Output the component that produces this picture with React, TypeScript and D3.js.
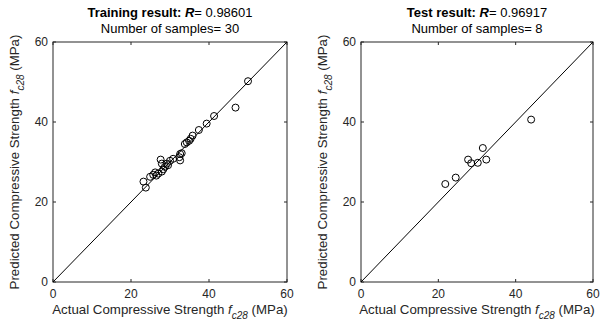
import React, { useEffect, useRef } from 'react';
import * as d3 from 'd3';

// Training set: actual vs predicted f_c28 (MPa)
const trainActual = [
  50.0, 46.8, 41.3, 39.4, 37.4, 35.8, 35.3, 34.9, 34.3, 33.8,
  32.6, 32.4, 32.6, 30.8, 30.0, 27.6, 27.9, 29.2, 28.7, 28.3,
  27.9, 27.0, 26.2, 25.7, 24.9, 23.2, 23.8, 33.0, 26.5, 29.5,
];
const trainPredicted = [
  50.2, 43.6, 41.5, 39.6, 38.0, 36.6, 35.8, 35.3, 34.9, 34.5,
  32.0, 31.2, 30.4, 30.8, 30.3, 30.6, 29.6, 29.6, 28.8, 28.2,
  27.6, 27.1, 27.4, 26.8, 26.3, 25.1, 23.6, 32.2, 26.6, 29.2,
];

// Test set
const testActual = [21.8, 24.5, 27.7, 28.5, 30.2, 31.5, 32.4, 44.0];
const testPredicted = [24.5, 26.1, 30.6, 29.7, 29.8, 33.5, 30.6, 40.6];

const axisTicks = [0, 20, 40, 60];

interface PanelSpec {
  left: number;
  right: number;
  titleBold: string;
  rValue: string;
  samples: number;
  xs: number[];
  ys: number[];
}

const panels: PanelSpec[] = [
  { left: 53, right: 287, titleBold: 'Training result: ', rValue: '0.98601', samples: 30, xs: trainActual, ys: trainPredicted },
  { left: 361, right: 593, titleBold: 'Test result: ', rValue: '0.96917', samples: 8, xs: testActual, ys: testPredicted },
];

const App: React.FC = () => {
  const svgRef = useRef<SVGSVGElement>(null);

  useEffect(() => {
    if (!svgRef.current) return;
    const root = d3.select(svgRef.current);
    root.selectAll('*').remove();

    const top = 42;
    const bottom = 282;
    const font = 'Liberation Sans, Arial, Helvetica, sans-serif';
    const tickColor = '#262626';

    panels.forEach(p => {
      const x = d3.scaleLinear().domain([0, 60]).range([p.left, p.right]);
      const y = d3.scaleLinear().domain([0, 60]).range([bottom, top]);
      const g = root.append('g');
      const cx = (p.left + p.right) / 2;

      // Box
      g.append('rect')
        .attr('x', p.left)
        .attr('y', top)
        .attr('width', p.right - p.left)
        .attr('height', bottom - top)
        .attr('fill', 'white')
        .attr('stroke', tickColor)
        .attr('stroke-width', 1);

      // Ticks (inward, on all four sides)
      const tl = 3;
      axisTicks.forEach(t => {
        g.append('line').attr('x1', x(t)).attr('x2', x(t)).attr('y1', bottom).attr('y2', bottom - tl).attr('stroke', tickColor);
        g.append('line').attr('x1', x(t)).attr('x2', x(t)).attr('y1', top).attr('y2', top + tl).attr('stroke', tickColor);
        g.append('line').attr('x1', p.left).attr('x2', p.left + tl).attr('y1', y(t)).attr('y2', y(t)).attr('stroke', tickColor);
        g.append('line').attr('x1', p.right).attr('x2', p.right - tl).attr('y1', y(t)).attr('y2', y(t)).attr('stroke', tickColor);

        g.append('text')
          .attr('x', x(t))
          .attr('y', bottom + 16)
          .attr('text-anchor', 'middle')
          .attr('font-family', font)
          .attr('font-size', 12)
          .attr('fill', tickColor)
          .text(t);
        g.append('text')
          .attr('x', p.left - 5)
          .attr('y', y(t))
          .attr('dy', '0.35em')
          .attr('text-anchor', 'end')
          .attr('font-family', font)
          .attr('font-size', 12)
          .attr('fill', tickColor)
          .text(t);
      });

      // Identity line
      g.append('line')
        .attr('x1', x(0))
        .attr('y1', y(0))
        .attr('x2', x(60))
        .attr('y2', y(60))
        .attr('stroke', 'black')
        .attr('stroke-width', 1);

      // Points
      g.selectAll('circle')
        .data(p.xs.map((v, i) => [v, p.ys[i]]))
        .enter()
        .append('circle')
        .attr('cx', d => x(d[0]))
        .attr('cy', d => y(d[1]))
        .attr('r', 3.5)
        .attr('fill', 'none')
        .attr('stroke', 'black')
        .attr('stroke-width', 1);

      // Title
      const t1 = g.append('text')
        .attr('x', cx)
        .attr('y', 17)
        .attr('text-anchor', 'middle')
        .attr('font-family', font)
        .attr('font-size', 13)
        .attr('fill', 'black');
      t1.append('tspan').attr('font-weight', 'bold').text(p.titleBold);
      t1.append('tspan').attr('font-weight', 'bold').attr('font-style', 'italic').text('R');
      t1.append('tspan').text('= ' + p.rValue);

      g.append('text')
        .attr('x', cx)
        .attr('y', 33)
        .attr('text-anchor', 'middle')
        .attr('font-family', font)
        .attr('font-size', 13)
        .attr('fill', 'black')
        .text('Number of samples= ' + p.samples);

      // X label
      const xl = g.append('text')
        .attr('x', cx)
        .attr('y', 314)
        .attr('text-anchor', 'middle')
        .attr('font-family', font)
        .attr('font-size', 13.3)
        .attr('fill', tickColor);
      xl.append('tspan').text('Actual Compressive Strength ');
      xl.append('tspan').attr('font-style', 'italic').text('f');
      xl.append('tspan').attr('font-style', 'italic').attr('font-size', 10).attr('dy', 5).text('c28');
      xl.append('tspan').attr('dy', -5).text(' (MPa)');

      // Y label
      const yl = g.append('text')
        .attr('transform', `translate(${p.left - 34},${(top + bottom) / 2}) rotate(-90)`)
        .attr('text-anchor', 'middle')
        .attr('font-family', font)
        .attr('font-size', 13.3)
        .attr('fill', tickColor);
      yl.append('tspan').text('Predicted Compressive Strength ');
      yl.append('tspan').attr('font-style', 'italic').text('f');
      yl.append('tspan').attr('font-style', 'italic').attr('font-size', 10).attr('dy', 5).text('c28');
      yl.append('tspan').attr('dy', -5).text(' (MPa)');
    });
  }, []);

  return (
    <svg
      ref={svgRef}
      width={601}
      height={323}
      style={{ position: 'absolute', left: 0, top: 0, background: 'white' }}
    ></svg>
  );
};

export default App;
